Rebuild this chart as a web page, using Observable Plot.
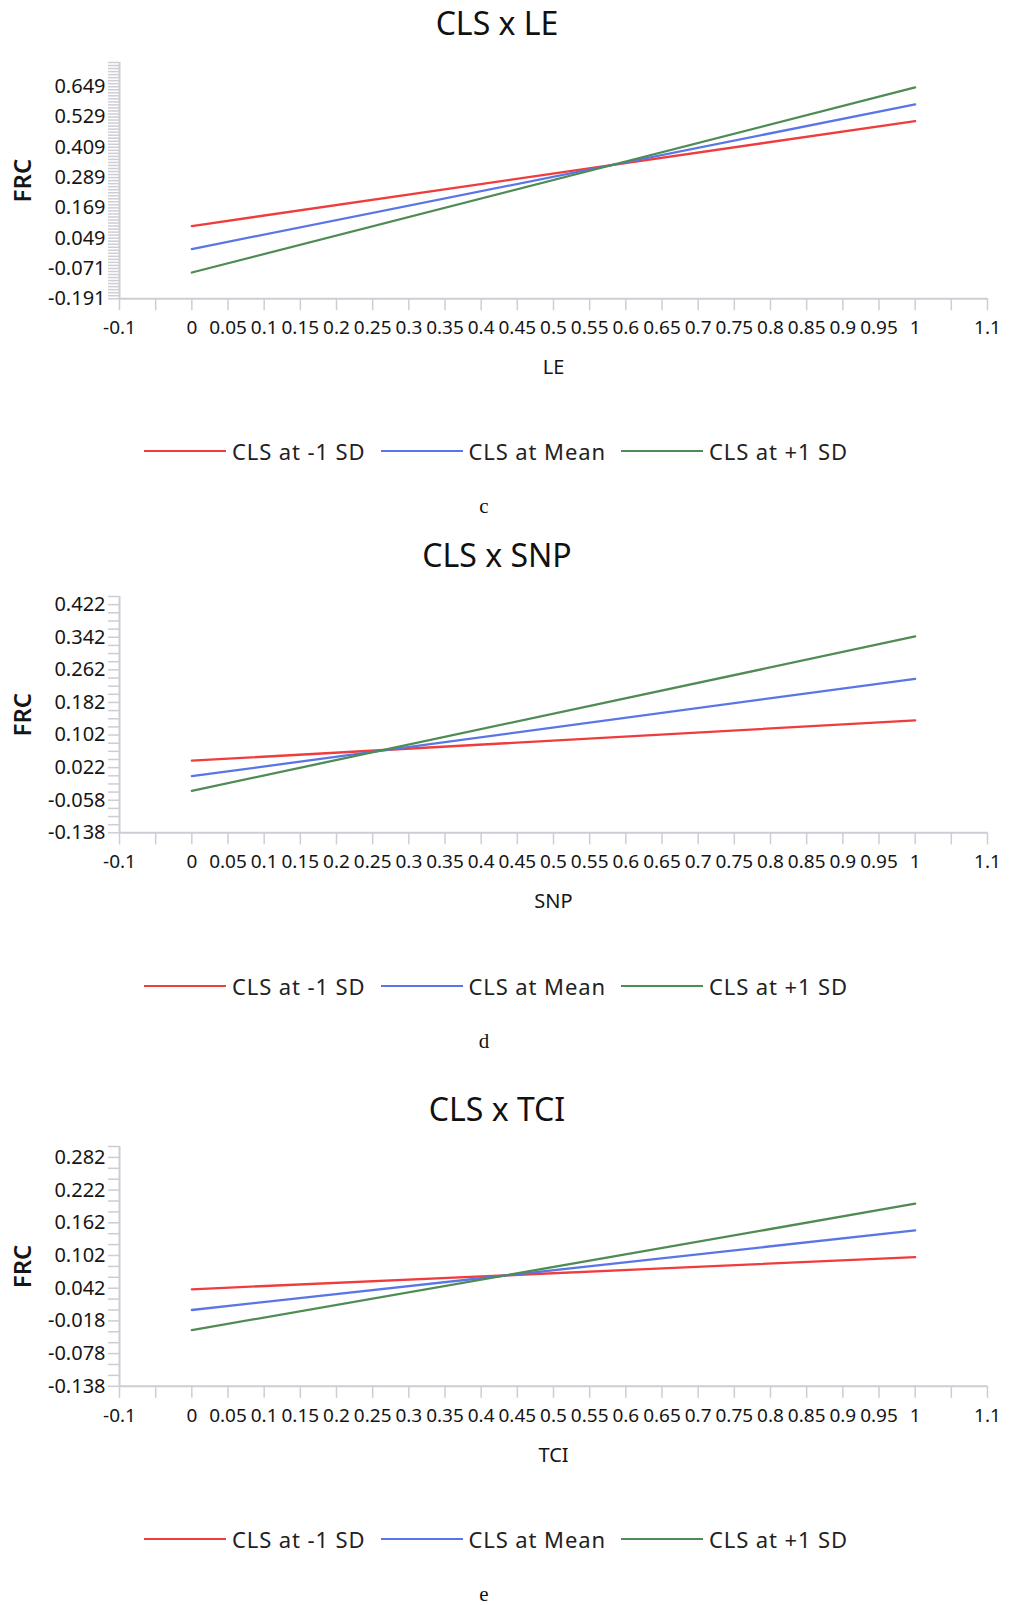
<!DOCTYPE html>
<html>
<head>
<meta charset="utf-8">
<script src="https://cdn.jsdelivr.net/npm/d3@7"></script>
<script src="https://cdn.jsdelivr.net/npm/@observablehq/plot@0.6"></script>
<style>
  html, body { margin: 0; padding: 0; background: #fff; }
  #root { position: relative; width: 1009px; height: 1605px; overflow: hidden; background: #fff; font-family: "Noto Sans", sans-serif; }
  .abs { position: absolute; white-space: nowrap; }
  .title { font-size: 32px; line-height: 32px; color: #111; text-align: center; }
  .caption { font-family: "Liberation Serif", "Times New Roman", serif; font-size: 21px; line-height: 21px; color: #111; text-align: center; }
  .legend { display: flex; align-items: center; justify-content: center; height: 30px; font-size: 22px; color: #222; letter-spacing: 0.9px; }
  .legend .sw { display: inline-block; width: 82px; height: 2px; margin-right: 6px; }
  .legend .item { display: flex; align-items: center; margin-right: 15px; }
  .legend .item:last-child { margin-right: 0; }
</style>
</head>
<body>
<div id="root"></div>
<script>
// ---- data ----
const titles = ["CLS x LE", "CLS x SNP", "CLS x TCI"];
const xLabels = ["LE", "SNP", "TCI"];
const captions = ["c", "d", "e"];
const seriesNames = ["CLS at -1 SD", "CLS at Mean", "CLS at +1 SD"];
const seriesColors = ["#f03c3c", "#5a76e6", "#4e8c54"];
const xPoints = [0, 1];

const leLow = [0.097, 0.513];
const leMean = [0.006, 0.579];
const leHigh = [-0.087, 0.646];

const snpLow = [0.039, 0.138];
const snpMean = [0.001, 0.240];
const snpHigh = [-0.035, 0.344];

const tciLow = [0.040, 0.099];
const tciMean = [0.002, 0.148];
const tciHigh = [-0.035, 0.197];

const leYTicks = [-0.191, -0.071, 0.049, 0.169, 0.289, 0.409, 0.529, 0.649];
const snpYTicks = [-0.138, -0.058, 0.022, 0.102, 0.182, 0.262, 0.342, 0.422];
const tciYTicks = [-0.138, -0.078, -0.018, 0.042, 0.102, 0.162, 0.222, 0.282];

const xTickLabels = [-0.1, 0, 0.05, 0.1, 0.15, 0.2, 0.25, 0.3, 0.35, 0.4, 0.45, 0.5, 0.55, 0.6, 0.65, 0.7, 0.75, 0.8, 0.85, 0.9, 0.95, 1, 1.1];
const xDomain = [-0.1, 1.1];
const xTickStep = 0.05;

const yTops = [0.745, 0.442, 0.302];
const yMinorSteps = [0.012, 0.02, 0.02];

// ---- layout ----
const frameBottoms = [298, 832.5, 1385.5];
const pxPerUnit = [252.4, 407.5, 545];
const titleBaselines = [35, 567, 1121];
const axisColor = "#cdcdd6";

const panels = [
  {series: [leLow, leMean, leHigh], yTicks: leYTicks},
  {series: [snpLow, snpMean, snpHigh], yTicks: snpYTicks},
  {series: [tciLow, tciMean, tciHigh], yTicks: tciYTicks}
];

const root = document.getElementById("root");

function el(cls, text, css) {
  const d = document.createElement("div");
  d.className = "abs " + cls;
  if (text != null) d.textContent = text;
  Object.assign(d.style, css);
  root.appendChild(d);
  return d;
}

const xMarks = d3.range(Math.round((xDomain[1] - xDomain[0]) / xTickStep) + 1)
  .map(i => +(xDomain[0] + i * xTickStep).toFixed(4));

panels.forEach((p, k) => {
  const yMin = p.yTicks[0];
  const yMax = yTops[k];
  const frameH = (yMax - yMin) * pxPerUnit[k];
  const frameTop = frameBottoms[k] - frameH;
  const mTop = 20, mBottom = 100;
  const nMinor = Math.round((yMax - yMin) / yMinorSteps[k]);
  const yMinor = d3.range(nMinor + 1).map(i => +(yMin + i * yMinorSteps[k]).toFixed(4));

  const data = [];
  p.series.forEach((vals, s) => {
    vals.forEach((v, i) => data.push({series: seriesNames[s], x: xPoints[i], y: v}));
  });

  const chart = Plot.plot({
    width: 1009,
    height: frameH + mTop + mBottom,
    marginLeft: 119,
    marginRight: 22,
    marginTop: mTop,
    marginBottom: mBottom,
    x: {domain: xDomain, label: null},
    y: {domain: [yMin, yMax], label: null},
    color: {domain: seriesNames, range: seriesColors},
    style: {fontFamily: "Noto Sans", fontSize: "20px", color: "#151515", background: "transparent", overflow: "visible"},
    marks: [
      Plot.axisY({ticks: yMinor, tickSize: 11, tickFormat: () => "", stroke: axisColor, strokeWidth: 1.5, strokeOpacity: 1}),
      Plot.axisY({ticks: p.yTicks, tickSize: 0, tickPadding: 14, tickFormat: d => String(d), fontSize: 20}),
      Plot.axisX({ticks: xMarks, tickSize: 12, tickFormat: () => "", stroke: axisColor, strokeWidth: 1.5, strokeOpacity: 1}),
      Plot.axisX({ticks: xTickLabels, tickSize: 0, tickPadding: 22, tickFormat: d => String(d), fontSize: 19}),
      Plot.ruleY([yMin], {stroke: axisColor, strokeWidth: 2}),
      Plot.ruleX([xDomain[0]], {stroke: axisColor, strokeWidth: 2}),
      Plot.line(data, {x: "x", y: "y", z: "series", stroke: "series", strokeWidth: 2.3}),
      Plot.text([xLabels[k]], {text: d => d, frameAnchor: "bottom", lineAnchor: "middle", dy: 69, fontSize: 20, fill: "#151515"}),
      Plot.text(["FRC"], {text: d => d, frameAnchor: "left", textAnchor: "middle", lineAnchor: "middle", dx: -96, rotate: -90, fontSize: 24, fontWeight: 600, fill: "#151515"})
    ]
  });
  chart.style.position = "absolute";
  chart.style.left = "0px";
  chart.style.top = (frameTop - mTop) + "px";
  const setSize = (sel, size) => chart.querySelectorAll(sel).forEach(g => {
    g.setAttribute("font-size", size);
    g.querySelectorAll("text").forEach(t => t.setAttribute("font-size", size));
  });
  setSize('g[aria-label="y-axis tick label"]', "20");
  setSize('g[aria-label="x-axis tick label"]', "19");
  root.appendChild(chart);

  // title
  el("title", titles[k], {left: "0px", width: "994px", top: (titleBaselines[k] - 0.888 * 32) + "px"});

  // legend
  const lg = el("legend", null, {left: "0px", width: "992px", top: (frameBottoms[k] + 153 - 15) + "px"});
  seriesNames.forEach((name, s) => {
    const it = document.createElement("div");
    it.className = "item";
    const sw = document.createElement("span");
    sw.className = "sw";
    sw.style.background = seriesColors[s];
    const tx = document.createElement("span");
    tx.textContent = name;
    it.appendChild(sw);
    it.appendChild(tx);
    lg.appendChild(it);
  });

  // caption
  el("caption", captions[k], {left: "0px", width: "968px", top: (frameBottoms[k] + 212 - 14) + "px"});
});
</script>
</body>
</html>
